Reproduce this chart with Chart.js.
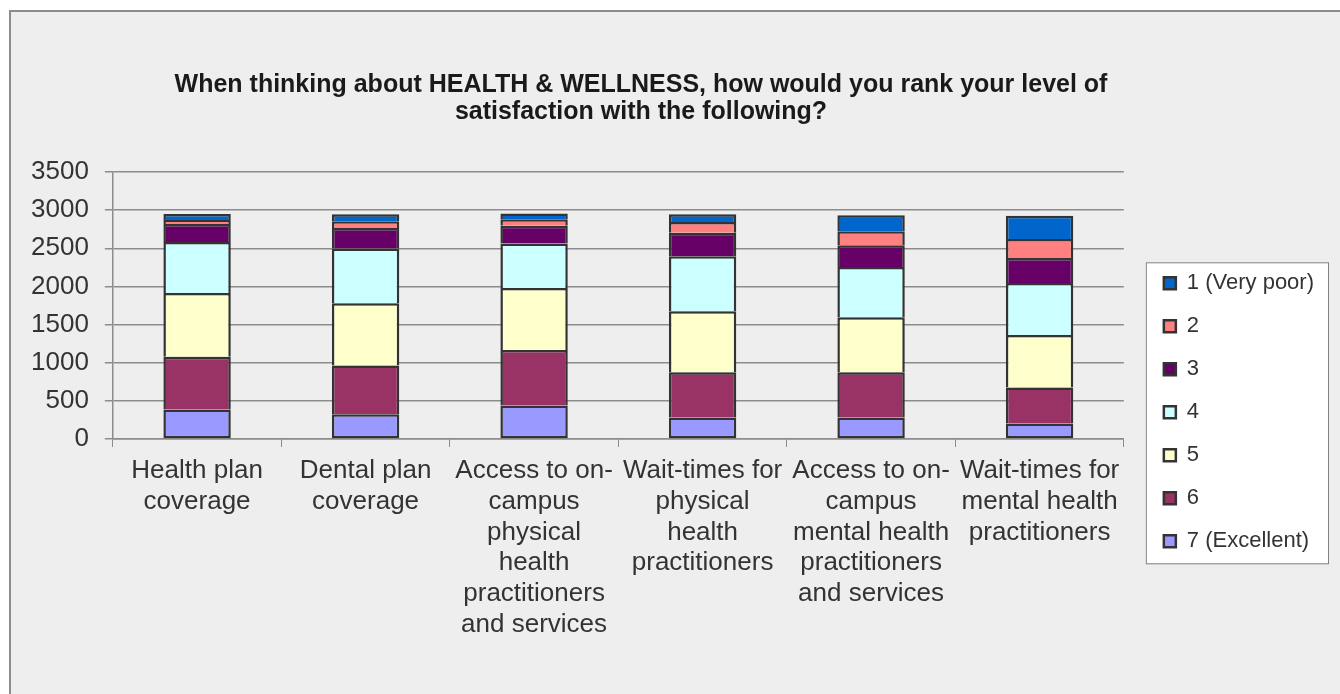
<!DOCTYPE html>
<html>
<head>
<meta charset="utf-8">
<script src="https://cdn.jsdelivr.net/npm/chart.js@4.4.1/dist/chart.umd.min.js"></script>
<style>
  html, body { margin: 0; padding: 0; background: #ffffff; overflow: hidden; }
  #frame {
    position: absolute; left: 9px; top: 10px; width: 1360px; height: 720px;
    background: #eeeeee; border: 2px solid #8c8c8c;
  }
  #wrap { position: absolute; left: 0; top: 0; width: 1340px; height: 694px; }
</style>
</head>
<body>
<div id="frame"></div>
<div id="wrap"><canvas id="chart"></canvas></div>
<script>
// ---- data ----
const categories = [
  ["Health plan", "coverage"],
  ["Dental plan", "coverage"],
  ["Access to on-", "campus", "physical", "health", "practitioners", "and services"],
  ["Wait-times for", "physical", "health", "practitioners"],
  ["Access to on-", "campus", "mental health", "practitioners", "and services"],
  ["Wait-times for", "mental health", "practitioners"]
];

const titleLines = [
  "When thinking about HEALTH & WELLNESS, how would you rank your level of",
  "satisfaction with the following?"
];

// stack order bottom -> top
const r7 = [386, 325, 439, 280, 282, 201];
const r6 = [690, 639, 728, 593, 591, 474];
const r5 = [837, 816, 811, 802, 723, 689];
const r4 = [668, 716, 584, 720, 658, 679];
const r3 = [237, 271, 232, 307, 285, 329];
const r2 = [52, 88, 88, 144, 185, 250];
const r1 = [79, 92, 74, 101, 210, 303];

const seriesNames = ["7 (Excellent)", "6", "5", "4", "3", "2", "1 (Very poor)"];
const seriesValues = [r7, r6, r5, r4, r3, r2, r1];
const seriesColors = ["#9999ff", "#993366", "#ffffcc", "#ccffff", "#660066", "#ff8080", "#0066cc"];

const yTicks = [0, 500, 1000, 1500, 2000, 2500, 3000, 3500];

const FONT = "'Liberation Sans', Arial, sans-serif";
const TEXT = "#333333";
const GRID = "#8c8c8c";

// white legend box with a grey frame behind the built-in legend
const legendBoxPlugin = {
  id: "legendBox",
  beforeDraw(chart) {
    const boxes = chart.legend && chart.legend.legendHitBoxes;
    if (!boxes || !boxes.length) return;
    const left = Math.min(...boxes.map(b => b.left)) - 18;
    const right = Math.max(...boxes.map(b => b.left + b.width)) + 14;
    const top = boxes[0].top - 10;
    const bottom = boxes[boxes.length - 1].top + boxes[boxes.length - 1].height + 11;
    const { ctx } = chart;
    ctx.save();
    ctx.fillStyle = "#ffffff";
    ctx.strokeStyle = "#808080";
    ctx.lineWidth = 1;
    ctx.fillRect(left, top, right - left, bottom - top);
    ctx.strokeRect(left + 0.5, top + 0.5, right - left, bottom - top);
    ctx.restore();
  }
};

// chart title, centred like the original (not over the canvas centre)
const titlePlugin = {
  id: "sheetTitle",
  afterDraw(chart) {
    const { ctx } = chart;
    ctx.save();
    ctx.fillStyle = "#1a1a1a";
    ctx.font = "bold 25px " + FONT;
    ctx.textAlign = "center";
    ctx.textBaseline = "middle";
    titleLines.forEach((line, i) => ctx.fillText(line, 641, 85 + i * 27));
    ctx.restore();
  }
};

const datasets = seriesNames.map((name, i) => ({
  label: name,
  data: seriesValues[i],
  backgroundColor: seriesColors[i],
  borderColor: "#333333",
  borderWidth: 2.5,
  borderSkipped: i === 0 ? false : "start",
  barPercentage: 0.4,
  categoryPercentage: 1.0
}));

new Chart(document.getElementById("chart").getContext("2d"), {
  type: "bar",
  data: { labels: categories, datasets },
  plugins: [legendBoxPlugin, titlePlugin],
  options: {
    responsive: true,
    maintainAspectRatio: false,
    animation: false,
    layout: { padding: { left: 15, right: 16, top: 172, bottom: 45 } },
    plugins: {
      title: { display: false },
      tooltip: { enabled: false },
      legend: {
        position: "right",
        reverse: true,
        title: { display: true, text: "", padding: 0, font: { size: 3 } },
        labels: {
          color: TEXT,
          font: { family: FONT, size: 22 },
          boxWidth: 12,
          boxHeight: 12,
          padding: 21
        }
      }
    },
    scales: {
      x: {
        stacked: true,
        grid: { display: true, drawOnChartArea: false, drawTicks: true, tickLength: 8, color: GRID, offset: true },
        border: { display: true, color: GRID, width: 1.5 },
        ticks: {
          color: TEXT,
          font: { family: FONT, size: 26, lineHeight: 1.18 },
          padding: 9,
          autoSkip: false,
          maxRotation: 0,
          minRotation: 0
        }
      },
      y: {
        stacked: true,
        min: 0,
        max: 3500,
        afterBuildTicks(scale) { scale.ticks = yTicks.map(v => ({ value: v })); },
        grid: { color: GRID, lineWidth: 1.5, tickLength: 8 },
        border: { display: true, color: GRID, width: 1.5 },
        ticks: {
          color: TEXT,
          font: { family: FONT, size: 26 },
          padding: 16,
          callback: v => String(v)
        }
      },
      gap: {
        type: "linear",
        axis: "y",
        position: "right",
        display: true,
        grid: { display: false },
        border: { display: false },
        ticks: { display: false },
        afterFit(scale) { scale.width = 19; }
      }
    }
  }
});
</script>
</body>
</html>
